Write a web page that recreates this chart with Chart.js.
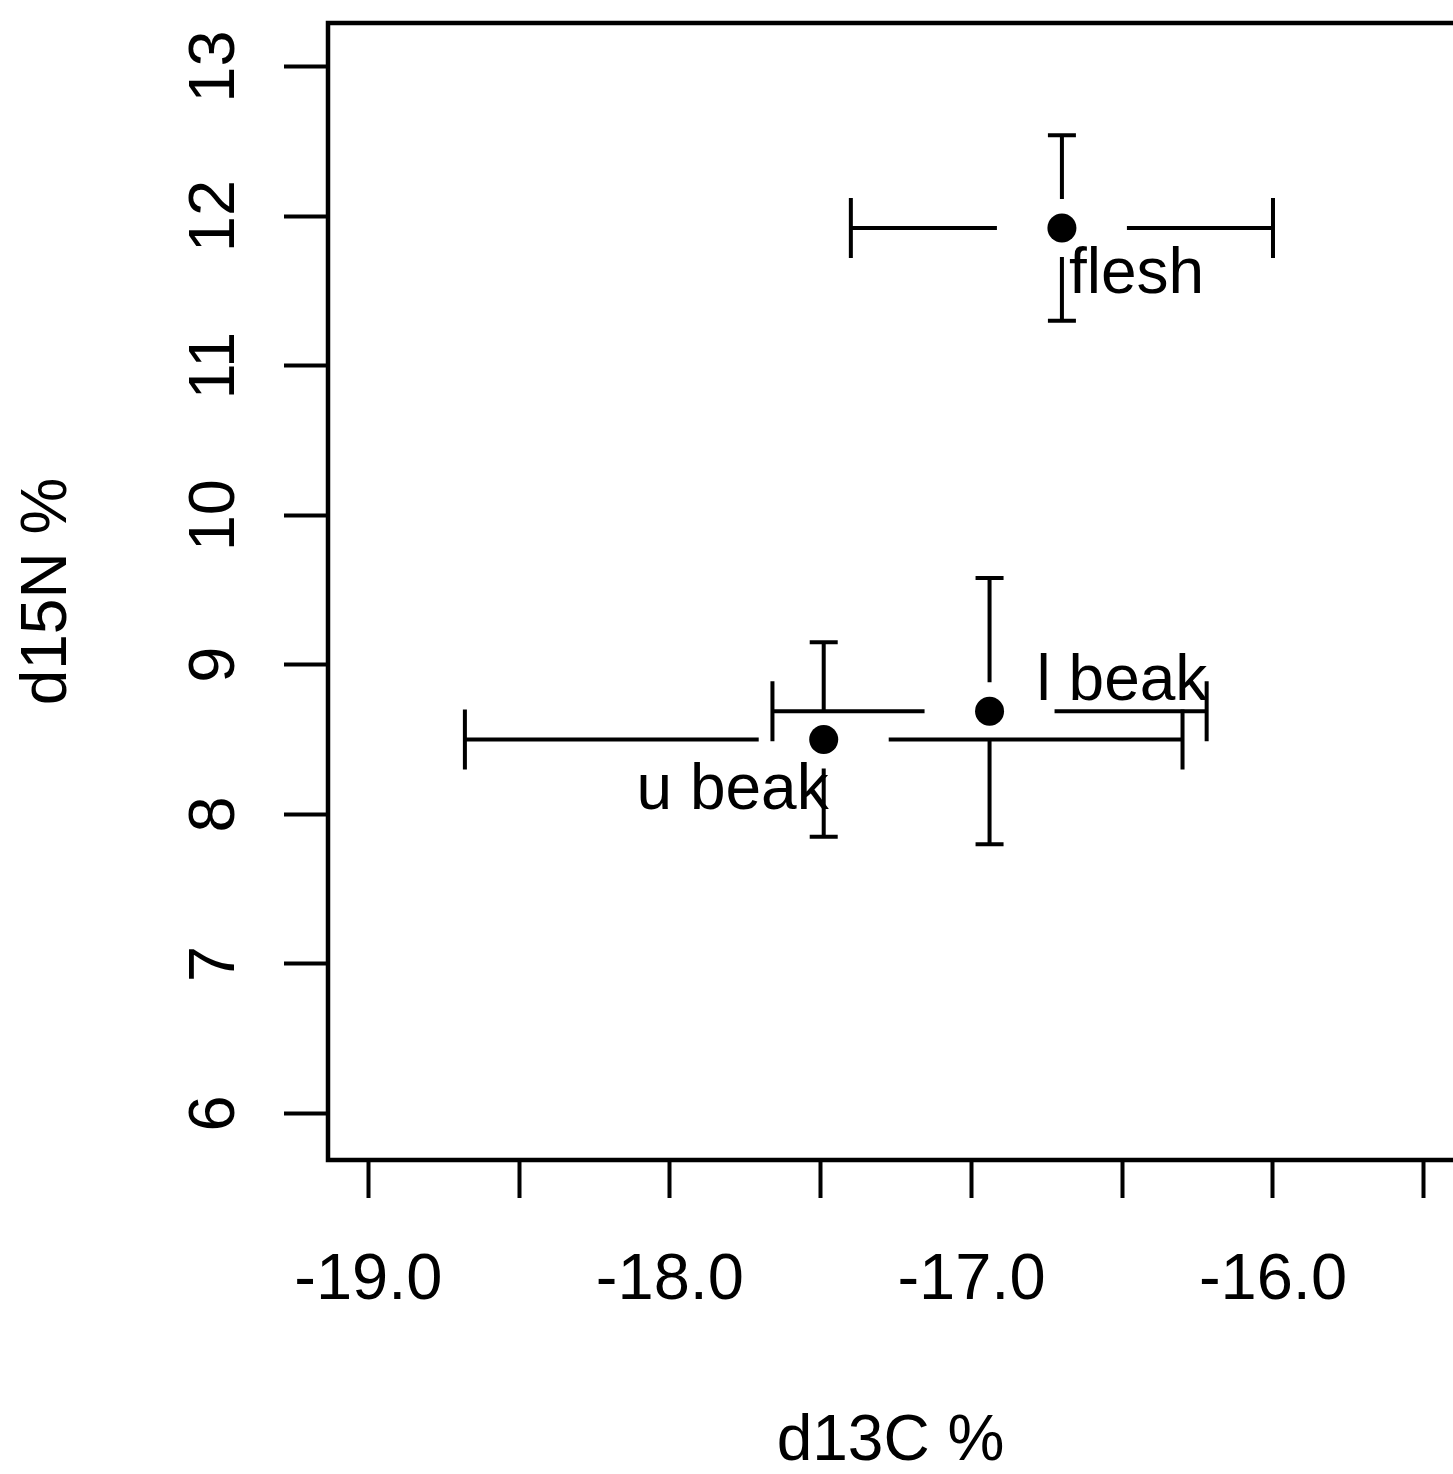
<!DOCTYPE html>
<html>
<head>
<meta charset="utf-8">
<script src="https://cdn.jsdelivr.net/npm/chart.js@4.4.0/dist/chart.umd.min.js"></script>
<style>
  html, body { margin: 0; padding: 0; background: #fff; overflow: hidden; }
  canvas { display: block; }
</style>
</head>
<body>
<canvas id="myChart" width="1453" height="1474"></canvas>
<script>
const tissues = ["flesh", "l beak", "u beak"];
const d13C = [-16.70, -16.94, -17.49];
const d15N = [11.92, 8.69, 8.50];
const d13CErr = [0.70, 0.72, 1.19];
const d15NErr = [0.62, 0.89, 0.65];

const xTickValues = [-19.0, -18.5, -18.0, -17.5, -17.0, -16.5, -16.0, -15.5];
const xTickLabels = ["-19.0", "", "-18.0", "", "-17.0", "", "-16.0", ""];
const yTickValues = [6, 7, 8, 9, 10, 11, 12, 13];
const yTickLabels = ["6", "7", "8", "9", "10", "11", "12", "13"];

const FONT = "'Liberation Sans', Arial, sans-serif";

// label offset from its point in pixels, like text(pos=...) in R
const labelPlacement = {
  "flesh": { dx: 7, dy: 65, align: "left" },
  "l beak": { dx: 47, dy: -11, align: "left" },
  "u beak": { dx: 5, dy: 69, align: "right" },
};

const errorBars = {
  id: "errorBars",
  beforeDatasetsDraw(chart) {
    const { ctx } = chart;
    const x = chart.scales.x;
    const y = chart.scales.y;
    const gapX = 65, gapY = 29, capX = 30, capY = 14;
    ctx.save();
    ctx.strokeStyle = "#000";
    ctx.lineWidth = 4;
    ctx.lineCap = "butt";
    d13C.forEach((v, i) => {
      const px = x.getPixelForValue(v);
      const py = y.getPixelForValue(d15N[i]);
      const left = x.getPixelForValue(v - d13CErr[i]);
      const right = x.getPixelForValue(v + d13CErr[i]);
      const top = y.getPixelForValue(d15N[i] + d15NErr[i]);
      const bottom = y.getPixelForValue(d15N[i] - d15NErr[i]);
      ctx.beginPath();
      // horizontal
      ctx.moveTo(left, py); ctx.lineTo(px - gapX, py);
      ctx.moveTo(px + gapX, py); ctx.lineTo(right, py);
      ctx.moveTo(left, py - capX); ctx.lineTo(left, py + capX);
      ctx.moveTo(right, py - capX); ctx.lineTo(right, py + capX);
      // vertical
      ctx.moveTo(px, top); ctx.lineTo(px, py - gapY);
      ctx.moveTo(px, py + gapY); ctx.lineTo(px, bottom);
      ctx.moveTo(px - capY, top); ctx.lineTo(px + capY, top);
      ctx.moveTo(px - capY, bottom); ctx.lineTo(px + capY, bottom);
      ctx.stroke();
    });
    ctx.restore();
  },
  afterDatasetsDraw(chart) {
    const { ctx } = chart;
    const x = chart.scales.x;
    const y = chart.scales.y;
    ctx.save();
    ctx.fillStyle = "#000";
    ctx.font = "64px " + FONT;
    ctx.textBaseline = "alphabetic";
    tissues.forEach((name, i) => {
      const p = labelPlacement[name];
      ctx.textAlign = p.align;
      ctx.fillText(name, x.getPixelForValue(d13C[i]) + p.dx, y.getPixelForValue(d15N[i]) + p.dy);
    });
    ctx.restore();
  }
};

const frame = {
  id: "frame",
  afterDraw(chart) {
    const { ctx, chartArea: a } = chart;
    const y = chart.scales.y;
    ctx.save();
    ctx.strokeStyle = "#000";
    ctx.lineWidth = 4.5;
    ctx.beginPath();
    ctx.moveTo(a.right + 10, a.top);
    ctx.lineTo(a.left, a.top);
    ctx.lineTo(a.left, a.bottom);
    ctx.lineTo(a.right + 10, a.bottom);
    ctx.stroke();
    // y tick labels turned like R's default las = 0
    ctx.fillStyle = "#000";
    ctx.font = "65px " + FONT;
    ctx.textAlign = "center";
    ctx.textBaseline = "alphabetic";
    yTickValues.forEach((v, i) => {
      ctx.save();
      ctx.translate(a.left - 94, y.getPixelForValue(v));
      ctx.rotate(-Math.PI / 2);
      ctx.fillText(yTickLabels[i], 0, 0);
      ctx.restore();
    });
    ctx.restore();
  }
};

const ctx = document.getElementById("myChart").getContext("2d");
const myChart = new Chart(ctx, {
  type: "scatter",
  data: {
    datasets: [
      {
        label: "tissue",
        data: d13C.map((v, i) => ({ x: v, y: d15N[i] })),
        backgroundColor: "#000",
        borderColor: "#000",
        borderWidth: 0,
        pointRadius: 14.5,
        pointHoverRadius: 14.5,
      },
    ],
  },
  options: {
    responsive: false,
    animation: false,
    events: [],
    layout: { autoPadding: false, padding: { top: 23, left: 0, right: 0, bottom: 0 } },
    plugins: {
      legend: { display: false },
      tooltip: { enabled: false },
    },
    scales: {
      x: {
        type: "linear",
        min: -19.134,
        max: -15.403,
        afterBuildTicks: (s) => { s.ticks = xTickValues.map((v) => ({ value: v })); },
        afterFit: (s) => {
          s.height = 314;
          s.paddingLeft = 0;
          s.paddingRight = 0;
        },
        ticks: {
          callback: (v, i) => xTickLabels[i],
          autoSkip: false,
          maxRotation: 0,
          minRotation: 0,
          padding: 44,
          color: "#000",
          font: { family: FONT, size: 65 },
        },
        grid: { drawOnChartArea: false, drawTicks: true, tickLength: 38, tickWidth: 4, tickColor: "#000" },
        border: { display: false },
        title: {
          display: true,
          text: "d13C %",
          color: "#000",
          font: { family: FONT, size: 64, lineHeight: 1 },
          padding: { top: 0, bottom: 0 },
        },
      },
      y: {
        type: "linear",
        min: 5.689,
        max: 13.291,
        afterBuildTicks: (s) => { s.ticks = yTickValues.map((v) => ({ value: v })); },
        afterFit: (s) => {
          s.width = 328;
          s.paddingTop = 0;
          s.paddingBottom = 0;
        },
        ticks: { display: false },
        grid: { drawOnChartArea: false, drawTicks: true, tickLength: 44, tickWidth: 4, tickColor: "#000" },
        border: { display: false },
        title: {
          display: true,
          text: "d15N %",
          color: "#000",
          font: { family: FONT, size: 64, lineHeight: 1 },
          padding: { top: 16, bottom: 0 },
        },
      },
    },
  },
  plugins: [errorBars, frame],
});
</script>
</body>
</html>
